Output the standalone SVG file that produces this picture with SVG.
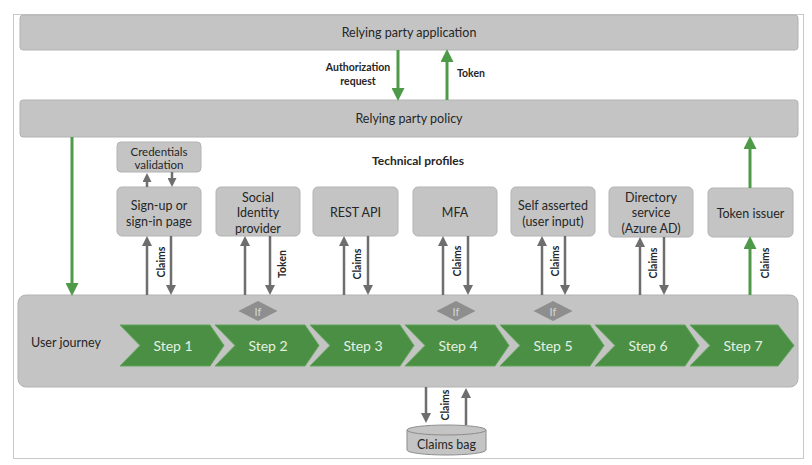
<svg xmlns="http://www.w3.org/2000/svg" width="812" height="465" viewBox="0 0 812 465">
<defs>
<style>
text{font-family:Lato,"Open Sans","Liberation Sans",sans-serif;fill:#262626;text-anchor:middle;dominant-baseline:central}
.box{fill:#c4c4c4;stroke:#b3b3b3;stroke-width:1}
.t13{font-size:12.5px}
.t11{font-size:11.5px}
.lbl{font-size:10.5px;font-weight:bold}
.ga{stroke:#6e6e6e;stroke-width:2.5;fill:none;marker-end:url(#gh)}
.gs{stroke:#6e6e6e;stroke-width:2.5;fill:none;marker-end:url(#ghs)}
.gr{stroke:#4f9a48;stroke-width:3;fill:none;marker-end:url(#grh)}
.chev{fill:#4b8f45;stroke:#5fa659;stroke-width:1}
.step{font-size:14px;fill:#e4f1e2}
.dia{fill:#8e8e8e}
.iff{font-size:11px;fill:#d6d6d6}
</style>
<marker id="gh" markerUnits="userSpaceOnUse" markerWidth="10" markerHeight="10" refX="5" refY="5" orient="auto"><path d="M0,0 L10,5 L0,10 z" fill="#6e6e6e"/></marker>
<marker id="ghs" markerUnits="userSpaceOnUse" markerWidth="9" markerHeight="9" refX="4.5" refY="4.5" orient="auto"><path d="M0,0 L9,4.5 L0,9 z" fill="#6e6e6e"/></marker>
<marker id="grh" markerUnits="userSpaceOnUse" markerWidth="13" markerHeight="13" refX="6" refY="6.5" orient="auto"><path d="M0,0 L13,6.5 L0,13 z" fill="#4f9a48"/></marker>
</defs>
<rect x="13.5" y="14.5" width="790" height="444" fill="#ffffff" stroke="#c8c8c8" stroke-width="1"/>

<g id="rp-app"><rect class="box" x="20" y="15" width="778" height="35" rx="3"/><text class="t13" x="409" y="32.5">Relying party application</text></g>
<g id="rp-policy"><rect class="box" x="20" y="100" width="778" height="37" rx="3"/><text class="t13" x="409" y="118.5">Relying party policy</text></g>
<g id="tp-title"><text x="418" y="160" style="font-size:12px;font-weight:bold">Technical profiles</text></g>

<g id="cred"><rect class="box" x="117" y="142" width="84" height="30" rx="4"/><text class="t11" x="159" y="151">Credentials</text><text class="t11" x="159" y="164">validation</text></g>
<g id="signup"><rect class="box" x="117" y="187" width="84" height="49" rx="5"/><text class="t13" x="159" y="205">Sign-up or</text><text class="t13" x="159" y="221">sign-in page</text></g>
<g id="social"><rect class="box" x="216" y="187" width="84" height="49" rx="5"/><text class="t13" x="258" y="197">Social</text><text class="t13" x="258" y="212.5">Identity</text><text class="t13" x="258" y="228">provider</text></g>
<g id="rest"><rect class="box" x="313" y="187" width="85" height="49" rx="5"/><text class="t13" x="355.5" y="212">REST API</text></g>
<g id="mfa"><rect class="box" x="413" y="187" width="84" height="49" rx="5"/><text class="t13" x="455" y="212">MFA</text></g>
<g id="self"><rect class="box" x="511" y="187" width="84" height="49" rx="5"/><text class="t13" x="553" y="205">Self asserted</text><text class="t13" x="553" y="221">(user input)</text></g>
<g id="directory"><rect class="box" x="609" y="187" width="84" height="50" rx="5"/><text class="t13" x="651" y="197">Directory</text><text class="t13" x="651" y="212.5">service</text><text class="t13" x="651" y="228">(Azure AD)</text></g>
<g id="token-issuer"><rect class="box" x="708" y="188" width="85" height="49" rx="5"/><text class="t13" x="750.5" y="213">Token issuer</text></g>

<g id="user-journey">
<rect class="box" x="18" y="295" width="780" height="92" rx="8"/>
<text class="t13" x="31" y="342" style="text-anchor:start">User journey</text>
</g>
<g id="steps">
<g id="step1"><path class="chev" d="M120,325 H210 L224,345.5 L210,366 H120 L140,345.5 z"/><text class="step" x="173" y="345.5">Step 1</text></g>
<g id="step2"><path class="chev" d="M215,325 H305 L319,345.5 L305,366 H215 L235,345.5 z"/><text class="step" x="268" y="345.5">Step 2</text></g>
<g id="step3"><path class="chev" d="M310,325 H400 L414,345.5 L400,366 H310 L330,345.5 z"/><text class="step" x="363" y="345.5">Step 3</text></g>
<g id="step4"><path class="chev" d="M405,325 H495 L509,345.5 L495,366 H405 L425,345.5 z"/><text class="step" x="458" y="345.5">Step 4</text></g>
<g id="step5"><path class="chev" d="M500,325 H590 L604,345.5 L590,366 H500 L520,345.5 z"/><text class="step" x="553" y="345.5">Step 5</text></g>
<g id="step6"><path class="chev" d="M595,325 H685 L699,345.5 L685,366 H595 L615,345.5 z"/><text class="step" x="648" y="345.5">Step 6</text></g>
<g id="step7"><path class="chev" d="M690,325 H778 L794,345.5 L778,366 H690 L710,345.5 z"/><text class="step" x="743" y="345.5">Step 7</text></g>
</g>
<g id="if-2"><path class="dia" d="M238.5,311 L258,301 L277.5,311 L258,321 z"/><text class="iff" x="258" y="311">If</text></g>
<g id="if-4"><path class="dia" d="M436.5,311 L456,301 L475.5,311 L456,321 z"/><text class="iff" x="456" y="311">If</text></g>
<g id="if-5"><path class="dia" d="M533.5,311 L553,301 L572.5,311 L553,321 z"/><text class="iff" x="553" y="311">If</text></g>

<g id="claims-bag">
<path d="M407,430 V450 A39.5,5 0 0 0 486,450 V430" fill="#c4c4c4" stroke="#8c8c8c" stroke-width="1"/>
<ellipse cx="446.5" cy="430" rx="39.5" ry="5" fill="#c4c4c4" stroke="#8c8c8c" stroke-width="1"/>
<text class="t13" x="446.5" y="444">Claims bag</text>
</g>

<g id="connectors">
<line class="gr" x1="398" y1="50" x2="398" y2="94"/>
<line class="gr" x1="447" y1="100" x2="447" y2="56"/>
<line class="gr" x1="72" y1="137" x2="72" y2="289"/>
<line class="gr" x1="750" y1="188" x2="750" y2="143"/>
<line class="gr" x1="750" y1="295" x2="750" y2="243"/>

<line class="gs" x1="147" y1="187" x2="147" y2="177.5"/>
<line class="gs" x1="172" y1="172" x2="172" y2="182.5"/>

<line class="ga" x1="147" y1="295" x2="147" y2="241"/>
<line class="ga" x1="171" y1="236" x2="171" y2="290"/>
<line class="ga" x1="245" y1="295" x2="245" y2="241"/>
<line class="ga" x1="270" y1="236" x2="270" y2="290"/>
<line class="ga" x1="344" y1="295" x2="344" y2="241"/>
<line class="ga" x1="368" y1="236" x2="368" y2="290"/>
<line class="ga" x1="443" y1="295" x2="443" y2="241"/>
<line class="ga" x1="468" y1="236" x2="468" y2="290"/>
<line class="ga" x1="542" y1="295" x2="542" y2="241"/>
<line class="ga" x1="565" y1="236" x2="565" y2="290"/>
<line class="ga" x1="640" y1="295" x2="640" y2="242"/>
<line class="ga" x1="664" y1="237" x2="664" y2="290"/>

<line class="ga" x1="426" y1="387" x2="426" y2="418"/>
<line class="ga" x1="466" y1="425" x2="466" y2="393"/>

<text class="lbl" x="358" y="67">Authorization</text>
<text class="lbl" x="358" y="81">request</text>
<text class="lbl" x="457" y="73" style="text-anchor:start">Token</text>
<text class="lbl" transform="translate(161,262) rotate(-90)">Claims</text>
<text class="lbl" transform="translate(282,264) rotate(-90)">Token</text>
<text class="lbl" transform="translate(357,264) rotate(-90)">Claims</text>
<text class="lbl" transform="translate(457,261) rotate(-90)">Claims</text>
<text class="lbl" transform="translate(555,261) rotate(-90)">Claims</text>
<text class="lbl" transform="translate(653,263) rotate(-90)">Claims</text>
<text class="lbl" transform="translate(765,263) rotate(-90)">Claims</text>
<text class="lbl" transform="translate(445,405) rotate(-90)">Claims</text>
</g>
</svg>
